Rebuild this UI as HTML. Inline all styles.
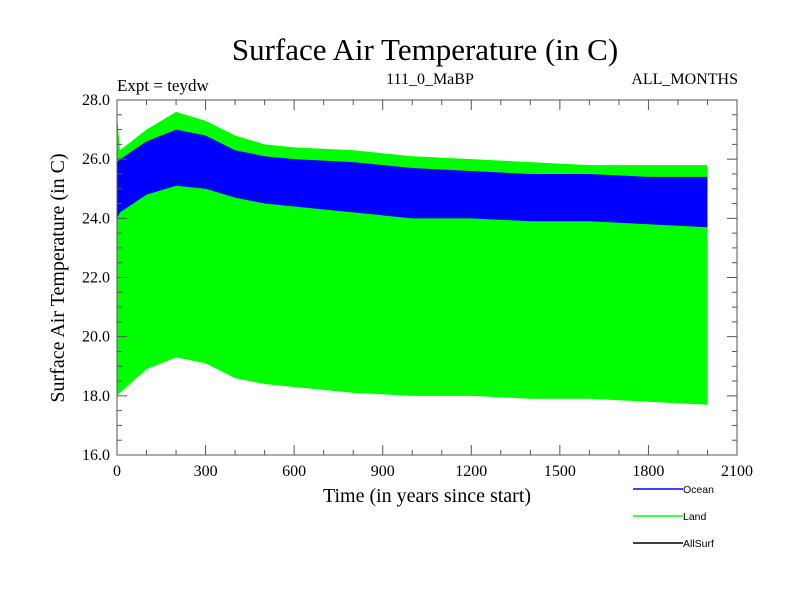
<!DOCTYPE html>
<html><head><meta charset="utf-8"><style>
body{margin:0;background:#fff}
svg text{font-family:"Liberation Serif",serif}
</style></head><body>
<svg id="c" width="800" height="600" xmlns="http://www.w3.org/2000/svg">
<text x="425" y="60" font-size="31" text-anchor="middle">Surface Air Temperature (in C)</text>
<text x="117" y="91" font-size="17">Expt = teydw</text>
<text x="430" y="84" font-size="16" text-anchor="middle">111_0_MaBP</text>
<text x="738" y="84" font-size="16" text-anchor="end">ALL_MONTHS</text>
<text transform="translate(64,278) rotate(-90)" font-size="20" text-anchor="middle">Surface Air Temperature (in C)</text>
<text x="427" y="502" font-size="20" text-anchor="middle">Time (in years since start)</text>
<g id="plot"></g>
<g id="axes"></g>
<g font-family="Liberation Sans,sans-serif">
<line x1="633" y1="489" x2="683" y2="489" stroke="#0000ff" stroke-width="1.5"/>
<text x="683" y="493" font-size="10.5" style="font-family:'Liberation Sans',sans-serif">Ocean</text>
<line x1="633" y1="516" x2="683" y2="516" stroke="#00ff00" stroke-width="1.5"/>
<text x="683" y="520" font-size="10.5" style="font-family:'Liberation Sans',sans-serif">Land</text>
<line x1="633" y1="543" x2="683" y2="543" stroke="#000" stroke-width="1.5"/>
<text x="683" y="547" font-size="10.5" style="font-family:'Liberation Sans',sans-serif">AllSurf</text>
</g>
</svg>
<script>
const years=[0,10,100,200,300,400,500,600,800,1000,1200,1400,1600,1800,2000];
const landMax=[27.5,26.3,27.0,27.6,27.3,26.8,26.5,26.4,26.3,26.1,26.0,25.9,25.8,25.8,25.8];
const landMin=[18.0,18.1,18.9,19.3,19.1,18.6,18.4,18.3,18.1,18.0,18.0,17.9,17.9,17.8,17.7];
const oceanMax=[25.9,26.0,26.6,27.0,26.8,26.3,26.1,26.0,25.9,25.7,25.6,25.5,25.5,25.4,25.4];
const oceanMin=[24.0,24.2,24.8,25.1,25.0,24.7,24.5,24.4,24.2,24.0,24.0,23.9,23.9,23.8,23.7];
const xTicks=[0,300,600,900,1200,1500,1800,2100];
const yTicks=[16,18,20,22,24,26,28];
const L=117,R=737,T=100,B=455;
const sx=v=>L+(v-0)/(2100)*(R-L);
const sy=v=>B-(v-16)/12*(B-T);
const NS="http://www.w3.org/2000/svg";
const plot=document.getElementById('plot'),axes=document.getElementById('axes');
function band(hi,lo,color,name){
  let pts=years.map((y,i)=>sx(y)+','+sy(hi[i]));
  for(let i=years.length-1;i>=0;i--)pts.push(sx(years[i])+','+sy(lo[i]));
  const p=document.createElementNS(NS,'polygon');
  p.setAttribute('points',pts.join(' '));p.setAttribute('fill',color);
  
  
  plot.appendChild(p);
}
band(landMax,landMin,'#00ff00','land-band');
band(oceanMax,oceanMin,'#0000ff','ocean-band');
function ln(x1,y1,x2,y2){const l=document.createElementNS(NS,'line');
l.setAttribute('x1',x1);l.setAttribute('y1',y1);l.setAttribute('x2',x2);l.setAttribute('y2',y2);
l.setAttribute('stroke','#555');l.setAttribute('stroke-width','1');axes.appendChild(l);return l;}
const fr=document.createElementNS(NS,'rect');
fr.setAttribute('x',L);fr.setAttribute('y',T);fr.setAttribute('width',R-L);fr.setAttribute('height',B-T);
fr.setAttribute('fill','none');fr.setAttribute('stroke','#555');


axes.appendChild(fr);
for(let v=0;v<=2100;v+=100){const maj=v%300===0,len=maj?10:5;
ln(sx(v),B,sx(v),B-len);ln(sx(v),T,sx(v),T+len);}
for(let v=16;v<=28.001;v+=0.5){const maj=Math.abs(v%2)<1e-6,len=maj?10:5;
ln(L,sy(v),L+len,sy(v));ln(R,sy(v),R-len,sy(v));}
xTicks.forEach(v=>{const t=document.createElementNS(NS,'text');
t.setAttribute('x',sx(v));t.setAttribute('y',B+21);t.setAttribute('font-size','16');t.setAttribute('text-anchor','middle');
t.textContent=v;


axes.appendChild(t);});
yTicks.forEach(v=>{const t=document.createElementNS(NS,'text');
t.setAttribute('x',L-7);t.setAttribute('y',sy(v)+5);t.setAttribute('font-size','16');t.setAttribute('text-anchor','end');
t.textContent=v.toFixed(1);


axes.appendChild(t);});
</script>
</body></html>
